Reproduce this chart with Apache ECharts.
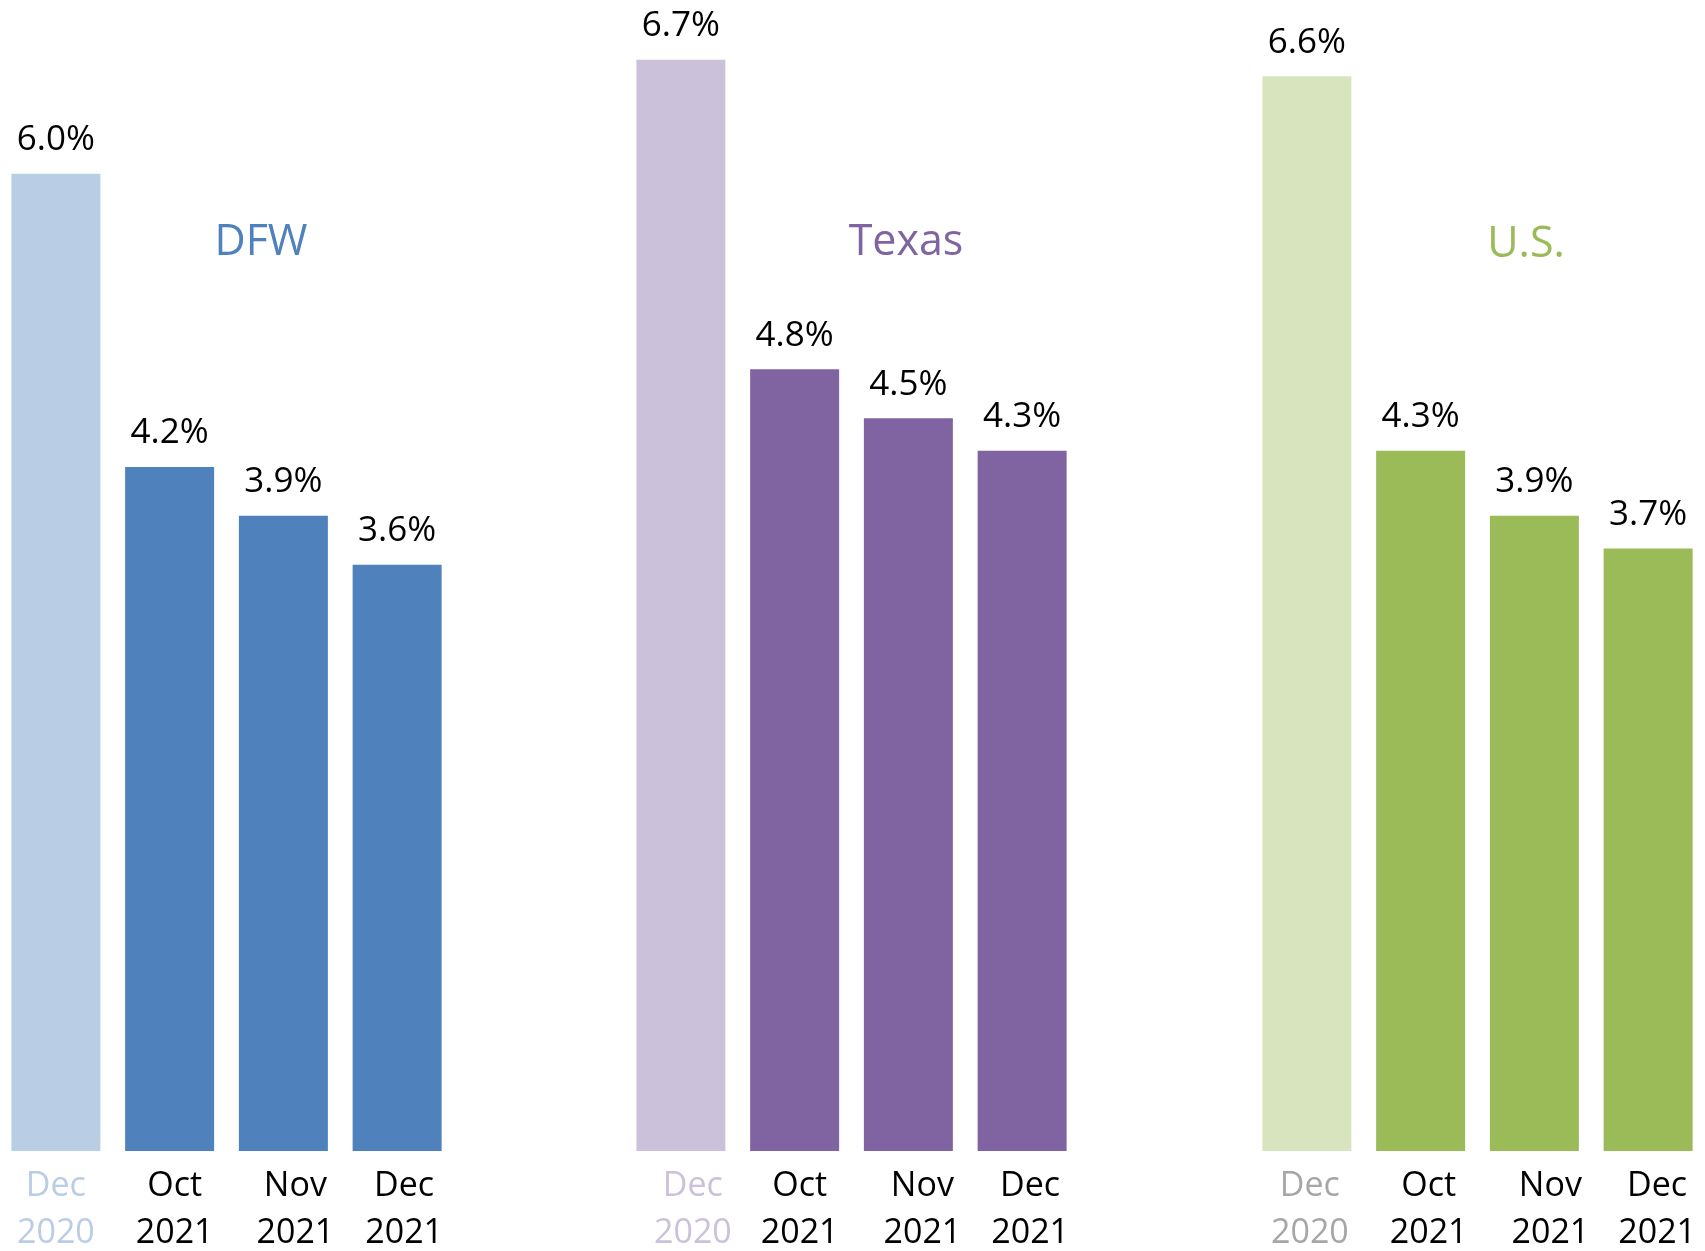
<!DOCTYPE html>
<html>
<head>
<meta charset="utf-8">
<script src="https://cdn.jsdelivr.net/npm/echarts@6/dist/echarts.min.js"></script>
<style>
html, body { margin: 0; padding: 0; background: #fff; }
#main { width: 1705px; height: 1251px; }
</style>
</head>
<body>
<div id="main"></div>
<script>
var categories = ['Dec\n2020', 'Oct\n2021', 'Nov\n2021', 'Dec\n2021'];
var dfw = [6.0, 4.2, 3.9, 3.6];
var texas = [6.7, 4.8, 4.5, 4.3];
var us = [6.6, 4.3, 3.9, 3.7];

// labelShift: the reference's tick labels sit a little right of the bar centres
var groups = [
    { name: 'DFW', data: dfw, left: -1, dark: '#4f81bd', light: '#b9cde5', first: '#b9cde5', titleX: 261, titleY: 243, labelShift: [0, 5, 12, 7] },
    { name: 'Texas', data: texas, left: 624, dark: '#8064a2', light: '#ccc1da', first: '#ccc1da', titleX: 906, titleY: 243, labelShift: [12, 5, 14, 8] },
    { name: 'U.S.', data: us, left: 1250, dark: '#9bbb59', light: '#d7e4bd', first: '#a6a6a6', titleX: 1526, titleY: 245, labelShift: [3, 8, 16, 9] }
];

var font = '"Open Sans", "Noto Sans", sans-serif';

var chart = echarts.init(document.getElementById('main'));

var grids = [], xAxes = [], yAxes = [], series = [], graphics = [];

groups.forEach(function (g, i) {
    grids.push({ left: g.left, width: 455, top: 11, bottom: 100, outerBoundsMode: 'none', containLabel: false });
    xAxes.push({
        type: 'category',
        gridIndex: i,
        data: categories.map(function (c, j) {
            var s = g.labelShift[j];
            return {
                value: c,
                textStyle: {
                    color: j === 0 ? g.first : '#000',
                    padding: s > 0 ? [0, 0, 0, 2 * s] : [0, -2 * s, 0, 0]
                }
            };
        }),
        axisLine: { show: false },
        axisTick: { show: false },
        splitLine: { show: false },
        axisLabel: {
            interval: 0,
            margin: 12,
            fontSize: 34,
            lineHeight: 47,
            fontFamily: font
        }
    });
    yAxes.push({
        type: 'value',
        gridIndex: i,
        min: 0,
        max: 7,
        show: false,
        splitLine: { show: false }
    });
    series.push({
        name: g.name,
        type: 'bar',
        xAxisIndex: i,
        yAxisIndex: i,
        barWidth: 89,
        data: g.data.map(function (v, j) {
            return { value: v, itemStyle: { color: j === 0 ? g.light : g.dark } };
        }),
        label: {
            show: true,
            position: 'top',
            distance: 16,
            color: '#000',
            fontSize: 35,
            fontFamily: font,
            formatter: function (p) { return p.value.toFixed(1) + '%'; }
        },
        animation: false
    });
    graphics.push({
        type: 'text',
        x: g.titleX,
        y: g.titleY,
        style: {
            text: g.name,
            fill: g.dark,
            font: '43px ' + font,
            align: 'center',
            verticalAlign: 'middle'
        }
    });
});

var option = {
    animation: false,
    grid: grids,
    xAxis: xAxes,
    yAxis: yAxes,
    series: series,
    graphic: graphics
};

chart.setOption(option);
</script>
</body>
</html>
